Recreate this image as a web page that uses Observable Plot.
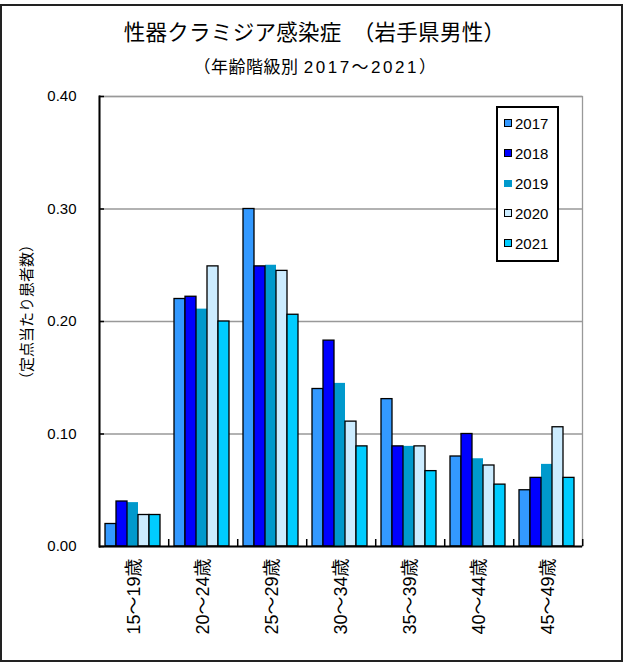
<!DOCTYPE html>
<html><head><meta charset="utf-8">
<script src="https://cdn.jsdelivr.net/npm/d3@7"></script>
<script src="https://cdn.jsdelivr.net/npm/@observablehq/plot@0.6"></script>
<style>
body{margin:0;background:#fff;}
#wrap{position:relative;width:623px;height:662px;overflow:hidden;font-family:"Liberation Sans","Noto Sans CJK JP",sans-serif;color:#000;background:#fff;}
#border{position:absolute;left:0;top:4px;width:623px;height:658px;box-sizing:border-box;border:2px solid #222;}
#chart{position:absolute;left:0;top:0;}
#title{position:absolute;left:0;width:629px;top:22px;text-align:center;font-size:21.5px;line-height:22px;letter-spacing:0.3px;white-space:nowrap;}
#subtitle{position:absolute;left:0;width:630px;top:59px;text-align:center;font-size:17px;line-height:17px;letter-spacing:0.5px;white-space:nowrap;}
#subtitle .num{letter-spacing:2.5px;}
#ylabel{position:absolute;left:26px;top:312px;font-size:15px;line-height:15px;white-space:nowrap;transform:translate(-50%,-50%) rotate(-90deg);}
#legend{position:absolute;left:496px;top:106px;width:63px;height:156px;box-sizing:border-box;border:2px solid #000;background:#fff;}
.item{height:30px;display:flex;align-items:center;font-size:15px;}
.sw{width:8px;height:8px;box-sizing:border-box;margin-left:6px;margin-right:3px;}
</style></head><body>
<div id="wrap">
 <div id="border"></div>
 <div id="chart"></div>
 <div id="title">性器クラミジア感染症　（岩手県男性）</div>
 <div id="subtitle">（年齢階級別 <span class="num">2017～2021</span>）</div>
 <div id="ylabel">（定点当たり患者数）</div>
 <div id="legend"></div>
</div>
<script>
const groups = ["15～19歳","20～24歳","25～29歳","30～34歳","35～39歳","40～44歳","45～49歳"];
const years = ["2017","2018","2019","2020","2021"];
const v2017 = [0.020,0.220,0.300,0.140,0.131,0.080,0.050];
const v2018 = [0.040,0.222,0.249,0.183,0.089,0.100,0.061];
const v2019 = [0.039,0.211,0.250,0.145,0.089,0.078,0.073];
const v2020 = [0.028,0.249,0.245,0.111,0.089,0.072,0.106];
const v2021 = [0.028,0.200,0.206,0.089,0.067,0.055,0.061];
const colors = ["#3399FF","#0000FF","#0099CC","#CCECFF","#00CCFF"];
const yTicks = [0,0.1,0.2,0.3,0.4];
const noBorderYear = "2019";

const series = [v2017,v2018,v2019,v2020,v2021];
const data = [];
series.forEach((vals,j)=>vals.forEach((v,i)=>data.push({group:groups[i],year:years[j],value:v})));

const W = 623, H = 662, mL = 97, mR = 40, mT = 96, mB = 116;
const half = (W - mL - mR) / groups.length / 2;

const chart = Plot.plot({
  width: W, height: H,
  marginTop: mT, marginBottom: mB, marginLeft: mL, marginRight: mR,
  style: {fontFamily: '"Liberation Sans","Noto Sans CJK JP",sans-serif', background: "transparent", fontSize: "15px", color: "#000"},
  fx: {domain: groups, padding: 0, label: null},
  x: {domain: years, paddingInner: 0, paddingOuter: 0.52, align: 0.4, axis: null},
  y: {domain: [0, 0.4], axis: null},
  color: {domain: years, range: colors},
  marks: [
    Plot.frame({facet: "super", stroke: "#999", strokeWidth: 1.3}),
    Plot.ruleY(yTicks.slice(1), {stroke: "#999", strokeWidth: 1.3}),
    Plot.barY(data, {filter: d => d.year === noBorderYear, fx: "group", x: "year", y: "value", fill: "year", inset: 0}),
    Plot.barY(data, {filter: d => d.year !== noBorderYear, fx: "group", x: "year", y: "value", fill: "year", stroke: "#000", strokeWidth: 1.3, inset: 0}),
    Plot.ruleY([0], {stroke: "#000", strokeWidth: 2}),
    Plot.frame({facet: "super", anchor: "left", stroke: "#000", strokeWidth: 2}),
    Plot.axisY({ticks: yTicks, tickFormat: d3.format(".2f"), tickSize: -5, tickPadding: 28, fontSize: 15, stroke: "#000", strokeWidth: 1.5, label: null}),
    Plot.axisFx({anchor: "bottom", tickRotate: -90, tickSize: 0, tickPadding: 12, fontSize: 18, label: null}),
    Plot.axisFx({anchor: "bottom", tickSize: -7, fill: "none", dx: half, stroke: "#000", strokeWidth: 1.5, label: null})
  ]
});
document.getElementById("chart").appendChild(chart);

const legend = document.getElementById("legend");
years.forEach((y,j)=>{
  const it = document.createElement("div"); it.className = "item";
  const sw = document.createElement("span"); sw.className = "sw";
  sw.style.background = colors[j];
  if (y !== noBorderYear) sw.style.border = "1.5px solid #000"; else sw.style.height = "7px";
  const t = document.createElement("span"); t.textContent = y;
  it.appendChild(sw); it.appendChild(t); legend.appendChild(it);
});
</script>
</body></html>
